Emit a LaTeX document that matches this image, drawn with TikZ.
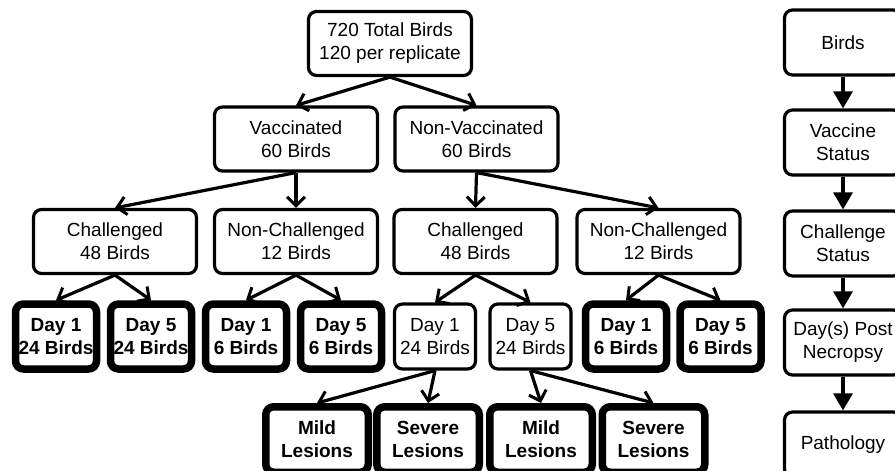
\documentclass[tikz,border=0pt]{standalone}
\usepackage{fontspec}
\setmainfont{Liberation Sans}
\usetikzlibrary{arrows.meta}

\begin{document}
\begin{tikzpicture}[
    x=1pt, y=-1pt,
    box/.style={draw, line width=3.2pt, rounded corners=8pt, align=center,
        inner sep=0pt, minimum width=163pt, minimum height=64pt,
        font=\fontsize{19}{23}\selectfont},
    day/.style={box, minimum width=81pt, minimum height=65pt},
    heavy/.style={line width=7.5pt, font=\fontsize{19}{23}\selectfont\bfseries},
    lesion/.style={day, heavy, minimum width=102.5pt, minimum height=65.5pt},
    legend/.style={box, minimum width=117pt, minimum height=65pt},
    split/.style={line width=3.2pt, -{Straight Barb[length=9pt,width=18pt,line width=3pt]}},
    flow/.style={line width=3.2pt, -{Triangle[length=17pt,width=19pt]}},
 ]
    \path[use as bounding box, fill=white] (0,0) rectangle (895,471);
    \clip (0,0) rectangle (895,471);

    \node[box] (T) at (390,43.5) {720 Total Birds\\120 per replicate};
    \node[box] (V) at (296,139) {Vaccinated\\60 Birds};
    \node[box] (N) at (476.5,139) {Non-Vaccinated\\60 Birds};

    \node[box] (VC) at (115,241.5) {Challenged\\48 Birds};
    \node[box] (VN) at (296,241.5) {Non-Challenged\\12 Birds};
    \node[box] (NC) at (475.5,241.5) {Challenged\\48 Birds};
    \node[box] (NN) at (658.5,241.5) {Non-Challenged\\12 Birds};

    \node[day,heavy] (VC1) at (56,336.5) {Day 1\\24 Birds};
    \node[day,heavy] (VC5) at (151,336.5) {Day 5\\24 Birds};
    \node[day,heavy] (VN1) at (246,336.5) {Day 1\\6 Birds};
    \node[day,heavy] (VN5) at (341,336.5) {Day 5\\6 Birds};
    \node[day] (NC1) at (435,336.5) {Day 1\\24 Birds};
    \node[day] (NC5) at (530.5,336.5) {Day 5\\24 Birds};
    \node[day,heavy] (NN1) at (626,336.5) {Day 1\\6 Birds};
    \node[day,heavy] (NN5) at (720.5,336.5) {Day 5\\6 Birds};

    \node[lesion] (M1) at (317,439.5) {Mild\\Lesions};
    \node[lesion] (S1) at (428,439.5) {Severe\\Lesions};
    \node[lesion] (M5) at (541,439.5) {Mild\\Lesions};
    \node[lesion] (S5) at (653.5,439.5) {Severe\\Lesions};

    \foreach \a/\b in {T/V, T/N, V/VC, V/VN, N/NC, N/NN,
        VC/VC1, VC/VC5, VN/VN1, VN/VN5, NC/NC1, NC/NC5, NN/NN1, NN/NN5,
        NC1/M1, NC1/S1, NC5/M5, NC5/S5}
        \draw[split] (\a.south) -- (\b.north);

    \node[legend] (B) at (843,42.5) {Birds};
    \node[legend] (VS) at (843,142.5) {Vaccine\\Status};
    \node[legend] (CS) at (843,243.5) {Challenge\\Status};
    \node[legend] (DP) at (843,342.5) {Day(s) Post\\Necropsy};
    \node[legend] (PA) at (843,444.5) {Pathology};

    \draw[flow] (B) -- (VS);
    \draw[flow] (VS) -- (CS);
    \draw[flow] (CS) -- (DP);
    \draw[flow] (DP) -- (PA);
\end{tikzpicture}
\end{document}
